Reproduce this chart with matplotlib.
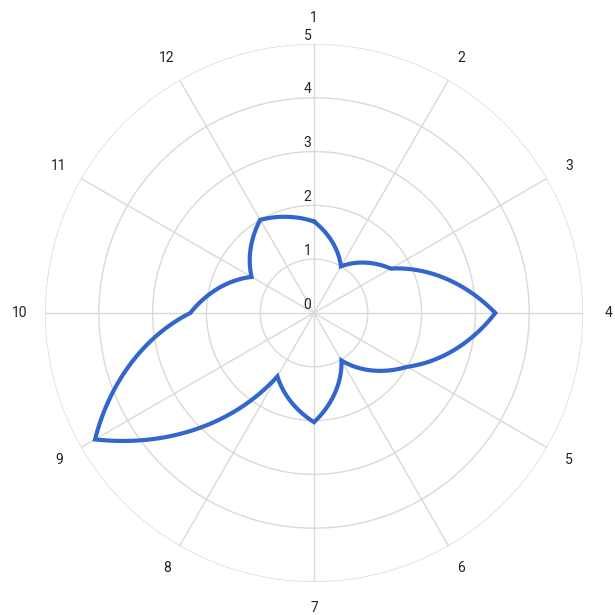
import numpy as np
import matplotlib
matplotlib.use('Agg')
import matplotlib.pyplot as plt
import matplotlib.transforms as mtransforms

plt.rcParams['font.family'] = ['Roboto', 'DejaVu Sans']

categories = ['1', '2', '3', '4', '5', '6', '7', '8', '9', '10', '11', '12']
values = [1.7, 1.0, 1.65, 3.37, 2.0, 1.02, 2.03, 1.36, 4.7, 2.3, 1.34, 2.0]
r_ticks = [0, 1, 2, 3, 4, 5]

line_color = '#3366cc'
grid_color = '#d9d9d9'
text_color = '#222222'

fig = plt.figure(figsize=(6.15, 6.15), dpi=100)
ax = fig.add_axes([0.0732, 0.0537, 0.8748, 0.8748], projection='polar')
ax.set_theta_zero_location('N')
ax.set_theta_direction(-1)
ax.set_ylim(0, 5)

angles = np.deg2rad(np.arange(len(categories)) * 360 / len(categories))

# closed loop, drawn as spiral arcs between the spokes
th = np.append(angles, 2 * np.pi)
rv = np.append(values, values[0])
line, = ax.plot(th, rv, color=line_color, lw=3.0, solid_joinstyle='miter', zorder=5)
line.get_path()._interpolation_steps = 60

ax.set_thetagrids(np.rad2deg(angles), [''] * len(categories))
ax.set_rgrids(r_ticks[1:], labels=[''] * (len(r_ticks) - 1))
ax.grid(True, color=grid_color, lw=1)
ax.spines['polar'].set_visible(False)

# category labels, centred a fixed distance outside the outer ring
for a, lab in zip(angles, categories):
    t = mtransforms.offset_copy(ax.transData, fig=fig, x=18.5 * np.sin(a),
                                y=18.5 * np.cos(a), units='points')
    ax.text(a, 5, lab, transform=t, ha='center', va='center',
            fontsize=10, color=text_color, clip_on=False)

# radial labels, just left of the top spoke
off = mtransforms.offset_copy(ax.transData, fig=fig, x=-2, y=1, units='points')
for r in r_ticks:
    ax.text(0, r, str(r), transform=off, ha='right', va='bottom',
            fontsize=10, color=text_color)

fig.savefig('out.png', dpi=100)
